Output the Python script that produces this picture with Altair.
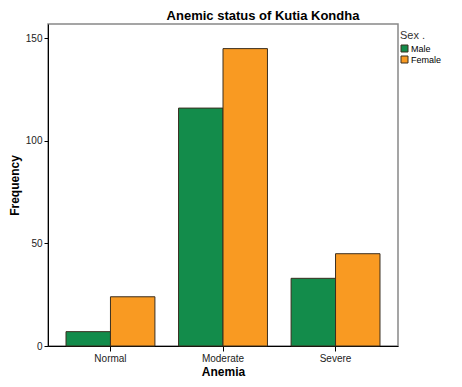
import altair as alt
import pandas as pd

categories = ["Normal", "Moderate", "Severe"]
sexes = ["Male", "Female"]
male_counts = [7, 116, 33]
female_counts = [24, 145, 45]

rows = []
for c, m, f in zip(categories, male_counts, female_counts):
    rows.append({"Anemia": c, "Sex": "Male", "Frequency": m})
    rows.append({"Anemia": c, "Sex": "Female", "Frequency": f})
df = pd.DataFrame(rows)

FONT = "Liberation Sans"

chart = alt.Chart(df).mark_bar(stroke="#3a2e1f", strokeWidth=1).encode(
    x=alt.X("Anemia:N", sort=categories,
            scale=alt.Scale(paddingInner=0.21, paddingOuter=0.16),
            axis=alt.Axis(title="Anemia", labelAngle=0, domainColor="#000000",
                          tickColor="#000000", tickSize=5, labelFontSize=10,
                          labelColor="#222222", labelFont=FONT, labelPadding=2,
                          titleFont=FONT, titleFontSize=12, titleFontWeight="bold",
                          titleColor="#000000", titlePadding=3)),
    xOffset=alt.XOffset("Sex:N", sort=sexes),
    y=alt.Y("Frequency:Q", scale=alt.Scale(domain=[0, 157], nice=False),
            axis=alt.Axis(title="Frequency", values=[0, 50, 100, 150], grid=False,
                          domainColor="#000000", tickColor="#000000", tickSize=4,
                          labelFontSize=10, labelColor="#222222", labelFont=FONT,
                          labelPadding=2, titleFont=FONT, titleFontSize=12,
                          titleFontWeight="bold", titleColor="#000000", titlePadding=4)),
    color=alt.Color("Sex:N", sort=sexes,
                    scale=alt.Scale(domain=sexes, range=["#138c4b", "#f99a22"]),
                    legend=alt.Legend(title="Sex .", orient="none", legendX=352, legendY=6,
                                      titleFont=FONT, titleFontSize=11, titleFontWeight="normal",
                                      titleColor="#333333", titlePadding=3,
                                      labelFont=FONT, labelFontSize=9, labelColor="#000000",
                                      symbolType="square", symbolSize=49,
                                      symbolStrokeColor="#3a2e1f", symbolStrokeWidth=1,
                                      symbolOpacity=1, rowPadding=0, labelOffset=2)),
).properties(
    width=350,
    height=322,
    title=alt.TitleParams("Anemic status of Kutia Kondha", font=FONT, fontSize=13,
                          fontWeight="bold", color="#000000", dx=40, offset=1),
    autosize=alt.AutoSizeParams(type="none"),
    padding={"left": 40, "top": 16, "right": 56, "bottom": 33},
).configure_view(stroke="#888888", strokeWidth=1.5)

chart.save("out.html", embed_options={"renderer": "svg", "actions": False})
